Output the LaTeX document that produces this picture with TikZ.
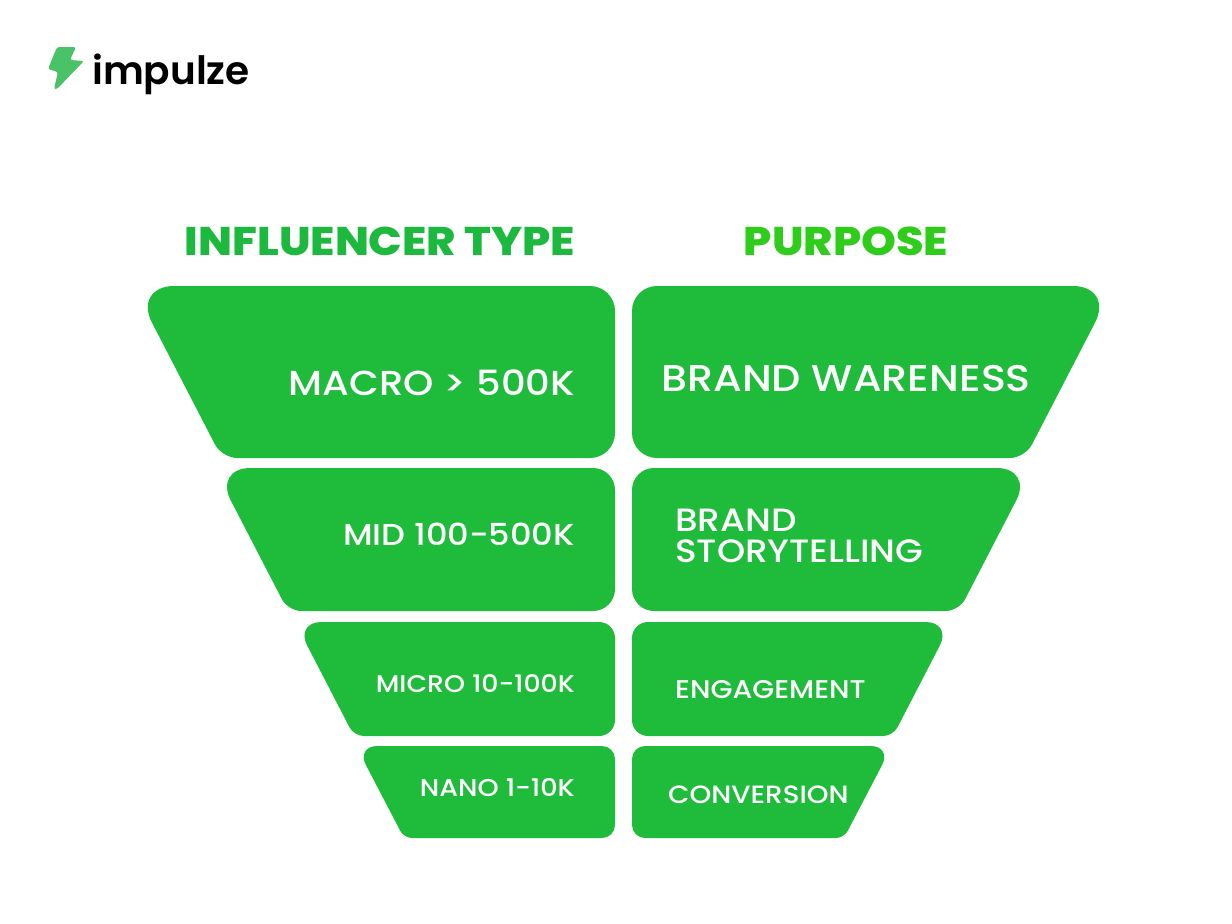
\documentclass[tikz,border=0pt]{standalone}
\usepackage{fontspec}
\setmainfont{Poppins Medium}[FakeStretch=1.11, BoldFont={Poppins ExtraBold}]
\newfontfamily\logofont{Poppins SemiBold}
\definecolor{funnelgreen}{HTML}{1FBC3C}
\definecolor{typegreen}{HTML}{1DB93F}
\definecolor{purposegreen}{HTML}{30CC1C}
\definecolor{boltgreen}{HTML}{4AC268}
\tikzset{
  funnel/.style={fill=funnelgreen},
  lbl/.style={text=white, inner sep=0pt, font=\fontsize{#1}{#1}\selectfont},
  head/.style={inner sep=0pt, font=\fontsize{40}{40}\selectfont\bfseries}
}
\begin{document}
\begin{tikzpicture}[x=1pt, y=-1pt]
\useasboundingbox (0,0) rectangle (1232,924);
% logo
\fill[boltgreen, rounded corners=2.5] (57,47) -- (76,47) -- (70,60) -- (84,61) -- (57,89) -- (54,89) -- (58,72) -- (48,69) -- cycle;
\node[anchor=base west, inner sep=0pt, font=\fontsize{39}{39}\logofont] (logo) at (92,84) {impulze};
% headings
\node[head, text=typegreen, anchor=base] (typehead) at (380,255) {INFLUENCER TYPE};
\node[head, text=purposegreen, anchor=base] (purposehead) at (846,255) {PURPOSE};
% left side: top x, bottom x, top y, bottom y, radius
\foreach \a/\b/\t/\u/\r in {133/222/286/458/25, 214/288/468/611/22, 295/354/622/736/16, 356/404/746/838/13}
  {\fill[funnel] (400,\t) [rounded corners=\r] -- (615,\t) [rounded corners=\r] -- (615,\u) [rounded corners=0.607*\r] -- (\b,\u)
     [rounded corners=1.65*\r] -- (\a,\t) -- (400,\t);}
% right side
\foreach \a/\b/\t/\u/\r in {1114/1025/286/458/25, 1033/959/468/611/22, 952/893/622/736/16, 892/844/746/838/13}
  {\fill[funnel] (760,\t) [rounded corners=1.65*\r] -- (\a,\t) [rounded corners=0.607*\r] -- (\b,\u) [rounded corners=\r] -- (632,\u)
     [rounded corners=\r] -- (632,\t) -- (760,\t);}
% labels
\node[lbl=34.7, anchor=base east] (macro) at (575,395) {MACRO > 500K};
\node[lbl=30.3, anchor=base east] (mid) at (575,545) {MID 100-500K};
\node[lbl=24.1, anchor=base east] (micro) at (575,692) {MICRO 10-100K};
\node[lbl=24.3, anchor=base east] (nano) at (575,796) {NANO 1-10K};
\node[lbl=37.2, anchor=base west] (aware) at (661,391) {BRAND WARENESS};
\node[lbl=32.3, anchor=base west] (brand) at (675,531) {BRAND};
\node[lbl=32.3, anchor=base west] (story) at (675,562) {STORYTELLING};
\node[lbl=25.6, anchor=base west] (engage) at (675,698) {ENGAGEMENT};
\node[lbl=25, anchor=base west] (convert) at (668,803) {CONVERSION};
\end{tikzpicture}
\end{document}
